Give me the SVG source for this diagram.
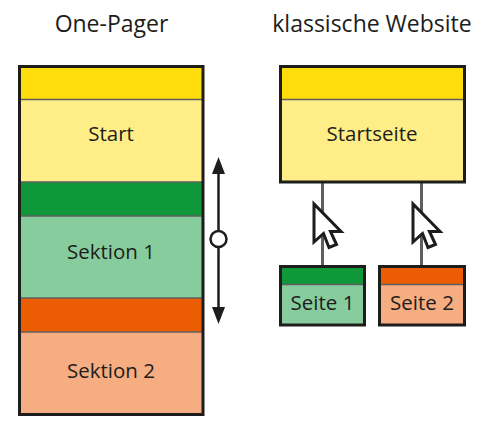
<svg xmlns="http://www.w3.org/2000/svg" width="490" height="430" viewBox="0 0 490 430">
<style>
text{font-family:"Open Sans","Noto Sans",sans-serif;fill:#1d1d1b;text-anchor:middle}
.t{font-size:23px}
.l{font-size:20.500px}
.o{fill:none;stroke:#1d1d1b;stroke-width:3}
.d{stroke:#5f5f5f;stroke-width:1.5;fill:none}
.c{stroke:#5f5f5f;stroke-width:3;fill:none}
.cur{fill:#fff;stroke:#1d1d1b;stroke-width:3}
</style>
<defs><path id="cursor" d="M0 0V38L9.500 29.500L15 43.500L22.500 40.500L16.500 27.500L27 27.500Z" class="cur"/></defs>
<g id="title-left"><text class="t" x="111.500" y="32">One-Pager</text></g>
<g id="title-right"><text class="t" x="372" y="32">klassische Website</text></g>
<g id="connectors">
<path class="c" d="M322.500 183V266M421.500 183V266"/>
<path d="M218.500 170V308" stroke="#1d1d1b" stroke-width="2.500" fill="none"/>
<path d="M218.500 157L225 174H212Z" fill="#1d1d1b"/>
<path d="M218.500 324L225 307H212Z" fill="#1d1d1b"/>
</g>
<g id="one-pager">
<rect x="19" y="66" width="184" height="34" fill="#ffdd0b"/>
<rect x="19" y="100" width="184" height="82" fill="#ffed87"/>
<rect x="19" y="182" width="184" height="34" fill="#0f983a"/>
<rect x="19" y="216" width="184" height="82" fill="#87cc9d"/>
<rect x="19" y="298" width="184" height="34" fill="#ec5c02"/>
<rect x="19" y="332" width="184" height="82" fill="#f6ad81"/>
<path class="d" d="M19 99.500H203M19 182H203M19 216H203M19 298H203M19 332H203"/>
<rect class="o" x="19.500" y="66.500" width="183.500" height="348"/>
<text class="l" x="111" y="141">Start</text>
<text class="l" x="111" y="259">Sektion 1</text>
<text class="l" x="111" y="378">Sektion 2</text>
</g>
<g id="startseite">
<rect x="281" y="66" width="183" height="34" fill="#ffdd0b"/>
<rect x="281" y="100" width="183" height="82" fill="#ffed87"/>
<path class="d" d="M281 99.500H464"/>
<rect class="o" x="280.500" y="66.500" width="184" height="115.500"/>
<text class="l" x="372" y="141">Startseite</text>
</g>
<g id="seite-1">
<rect x="281" y="267" width="83" height="18" fill="#0f983a"/>
<rect x="281" y="285" width="83" height="40" fill="#87cc9d"/>
<path class="d" d="M281 284.500H364"/>
<rect class="o" x="280.500" y="266.500" width="84" height="58.500"/>
<text class="l" x="322.500" y="310">Seite 1</text>
</g>
<g id="seite-2">
<rect x="380" y="267" width="84" height="18" fill="#ec5c02"/>
<rect x="380" y="285" width="84" height="40" fill="#f6ad81"/>
<path class="d" d="M380 284.500H464"/>
<rect class="o" x="379.500" y="266.500" width="85" height="58.500"/>
<text class="l" x="422" y="310">Seite 2</text>
</g>
<g id="scroll-handle"><circle cx="218.500" cy="239" r="8" fill="#fff" stroke="#1d1d1b" stroke-width="2.500"/></g>
<g id="cursor-1"><use href="#cursor" x="314" y="204"/></g>
<g id="cursor-2"><use href="#cursor" x="413" y="204"/></g>
</svg>
